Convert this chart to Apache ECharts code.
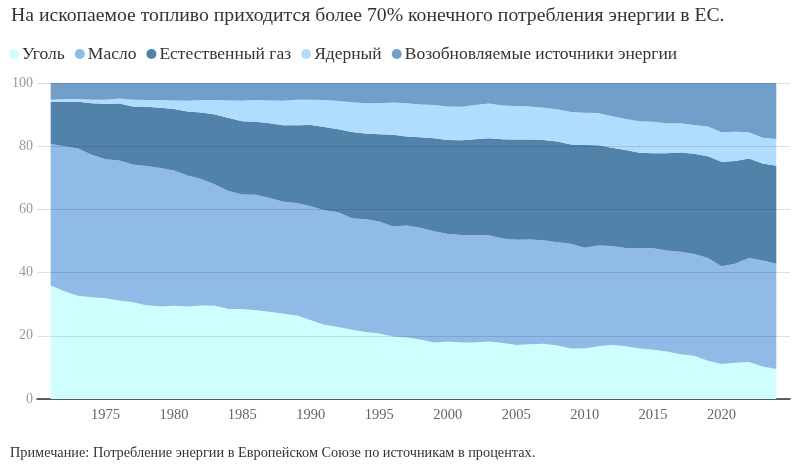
<!DOCTYPE html>
<html lang="ru">
  <head>
    <meta charset="UTF-8" />
    <title>Потребление энергии в ЕС</title>
    <script src="https://cdn.jsdelivr.net/npm/echarts@6.0.0/dist/echarts.min.js"></script>
    <style>
      html, body { margin: 0; padding: 0; background: #fff; }
    </style>
  </head>
  <body>
    <div id="chart" style="width: 800px; height: 466px"></div>
    <script>
      // ось: 1970–2025, данные с 1971 по 2024 (края оси пустые)
      var years = []
      for (var y = 1970; y <= 2025; y++) years.push(String(y))

      var coal = [35.9, 34.1, 32.7, 32.2, 31.9, 31.2, 30.6, 29.7, 29.3, 29.5,
        29.3, 29.6, 29.5, 28.5, 28.5, 28.1, 27.6, 27.0, 26.4, 24.9,
        23.5, 22.8, 21.9, 21.2, 20.7, 19.8, 19.5, 18.8, 17.9, 18.2,
        17.9, 17.9, 18.2, 17.7, 17.1, 17.3, 17.5, 16.9, 16.0, 16.0,
        16.7, 17.1, 16.7, 16.0, 15.6, 15.0, 14.2, 13.7, 12.1, 11.1,
        11.5, 11.7, 10.3, 9.5]
      var oil = [44.8, 45.9, 46.6, 45.1, 44.0, 44.3, 43.6, 44.0, 43.8, 42.8,
        41.4, 40.0, 38.4, 37.3, 36.2, 36.5, 36.0, 35.4, 35.6, 36.1,
        36.2, 36.3, 35.3, 35.7, 35.5, 34.8, 35.4, 35.4, 35.2, 34.0,
        34.0, 33.9, 33.6, 33.1, 33.3, 33.2, 32.7, 32.7, 33.1, 31.9,
        31.9, 31.3, 31.1, 31.8, 32.1, 32.0, 32.4, 32.2, 32.5, 30.9,
        31.3, 32.9, 33.5, 33.3]
      var gas = [13.4, 14.0, 14.8, 16.3, 17.5, 18.0, 18.4, 18.8, 19.1, 19.5,
        20.3, 21.1, 22.1, 23.1, 23.2, 23.1, 23.7, 24.2, 24.6, 25.7,
        26.4, 26.3, 27.3, 27.1, 27.6, 29.0, 28.2, 28.6, 29.4, 29.8,
        30.0, 30.4, 30.7, 31.4, 31.7, 31.6, 31.8, 31.9, 31.4, 32.5,
        31.7, 31.1, 31.0, 30.1, 30.1, 30.8, 31.4, 31.7, 32.2, 33.1,
        32.5, 31.5, 30.7, 31.0]
      var nuclear = [0.6, 0.9, 0.8, 1.1, 1.3, 1.6, 2.1, 2.1, 2.4, 2.7,
        3.4, 3.9, 4.6, 5.6, 6.5, 6.9, 7.2, 7.8, 8.1, 8.0,
        8.5, 8.9, 9.4, 9.6, 9.8, 10.2, 10.5, 10.4, 10.5, 10.6,
        10.6, 10.8, 11.0, 10.7, 10.6, 10.5, 10.2, 10.2, 10.3, 10.2,
        10.2, 10.0, 9.8, 10.0, 9.9, 9.5, 9.3, 9.1, 9.4, 9.3,
        9.3, 8.3, 8.2, 8.5]
      var renewables = [5.3, 5.1, 5.1, 5.3, 5.3, 4.9, 5.3, 5.4, 5.4, 5.5,
        5.6, 5.4, 5.4, 5.5, 5.6, 5.4, 5.5, 5.6, 5.3, 5.3,
        5.4, 5.7, 6.1, 6.4, 6.4, 6.2, 6.4, 6.8, 7.0, 7.4,
        7.5, 7.0, 6.5, 7.1, 7.3, 7.4, 7.8, 8.3, 9.2, 9.4,
        9.5, 10.5, 11.4, 12.1, 12.3, 12.7, 12.7, 13.3, 13.8, 15.6,
        15.4, 15.6, 17.3, 17.7]

      var names = ['Уголь', 'Масло', 'Естественный газ', 'Ядерный', 'Возобновляемые источники энергии']
      var colors = ['#d0fefe', '#91bbe7', '#5182aa', '#b0ddfd', '#729fc9']
      var values = [coal, oil, gas, nuclear, renewables]

      var font = '"Liberation Serif", "DejaVu Serif", serif'

      var series = names.map(function (name, i) {
        return {
          name: name,
          type: 'line',
          stack: 'total',
          showSymbol: false,
          lineStyle: { width: 0 },
          areaStyle: { color: colors[i], opacity: 1 },
          itemStyle: { color: colors[i] },
          // пустые точки для 1970 и 2025
          data: ['-'].concat(values[i], ['-'])
        }
      })

      var chart = echarts.init(document.getElementById('chart'))
      chart.setOption({
        animation: false,
        title: {
          text: 'На ископаемое топливо приходится более 70% конечного потребления энергии в ЕС.',
          left: 6,
          top: 1,
          textStyle: { fontFamily: font, fontSize: 19.7, fontWeight: 'normal', color: '#333' }
        },
        legend: {
          left: 4,
          top: 40,
          icon: 'circle',
          itemWidth: 10,
          itemHeight: 10,
          itemGap: 10,
          textStyle: { fontFamily: font, fontSize: 17.5, color: '#333', padding: [0, 0, 0, -2] },
          data: names
        },
        grid: { left: 37, right: 10, top: 83, bottom: 67 },
        xAxis: {
          type: 'category',
          data: years,
          boundaryGap: false,
          axisLine: { lineStyle: { color: '#333', width: 1.5 } },
          axisTick: { show: false },
          splitLine: { show: false },
          axisLabel: {
            interval: function (idx, val) {
              var n = Number(val)
              return n % 5 === 0 && n > 1970 && n < 2025
            },
            fontFamily: font,
            fontSize: 14.5,
            color: '#666',
            margin: 9
          }
        },
        yAxis: {
          type: 'value',
          min: 0,
          max: 100,
          interval: 20,
          z: 10,
          axisLine: { show: false },
          axisTick: { show: false },
          axisLabel: { fontFamily: font, fontSize: 14, color: '#999', margin: 4 },
          splitLine: { lineStyle: { color: 'rgba(0,0,0,0.12)', width: 1 } }
        },
        graphic: [{
          type: 'text',
          left: 10,
          top: 446,
          style: {
            text: 'Примечание: Потребление энергии в Европейском Союзе по источникам в процентах.',
            font: '14.3px ' + font,
            fill: '#333'
          }
        }],
        series: series
      })
    </script>
  </body>
</html>
